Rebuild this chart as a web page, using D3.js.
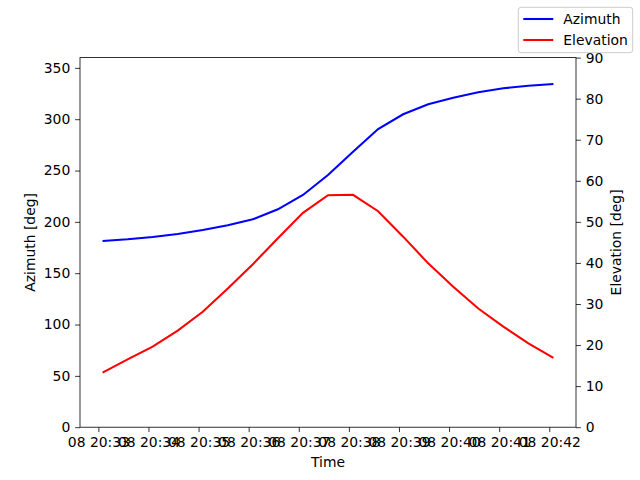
<!DOCTYPE html>
<html>
<head>
<meta charset="utf-8">
<script src="https://cdn.jsdelivr.net/npm/d3@7"></script>
<style>
  body { margin: 0; background: #fff; }
  svg { display: block; font-family: "DejaVu Sans", sans-serif; }
</style>
</head>
<body>
<svg id="vis1" width="640" height="480"></svg>
<script>
// observation times (day 08), one sample every 30 s
let times = ["20:33:05", "20:33:35", "20:34:05", "20:34:35", "20:35:05", "20:35:35",
  "20:36:05", "20:36:35", "20:37:05", "20:37:35", "20:38:05", "20:38:35", "20:39:05",
  "20:39:35", "20:40:05", "20:40:35", "20:41:05", "20:41:35", "20:42:05"];
let azimuth = [181.4, 183.0, 185.3, 188.2, 192.1, 196.7, 202.5, 212.2, 226.2, 245.6,
  268.3, 290.4, 304.8, 314.5, 321.0, 326.2, 330.1, 332.6, 334.3];
let elevation = [13.3, 16.5, 19.6, 23.5, 28.1, 33.8, 39.7, 46.0, 52.2, 56.5,
  56.6, 52.6, 46.4, 39.9, 34.2, 28.9, 24.5, 20.4, 16.9];
let azTicks = [0, 50, 100, 150, 200, 250, 300, 350];
let elTicks = [0, 10, 20, 30, 40, 50, 60, 70, 80, 90];
let timeTicks = ["20:33", "20:34", "20:35", "20:36", "20:37", "20:38", "20:39", "20:40", "20:41", "20:42"];
let seriesNames = ["Azimuth", "Elevation"];
let seriesColors = ["#0000ff", "#ff0000"];

let parseTime = d3.timeParse("%Y-%m-%d %H:%M:%S");
let parseTick = d3.timeParse("%Y-%m-%d %H:%M");
let day = "2024-01-08 ";

let dataPoints = times.map(function(t, i) {
  return { "t": parseTime(day + t), "az": azimuth[i], "el": elevation[i] };
});

let svg = d3.select("#vis1");

let margin = { top: 57.6, right: 64, bottom: 52.8, left: 80 };
let plotWidth = 640 - margin.left - margin.right;
let plotHeight = 480 - margin.top - margin.bottom;

let fontSize = 13.9;
let tickLen = 4.86;

// x domain padded by 5% like matplotlib margins
let tExt = d3.extent(dataPoints, function(d) { return d.t; });
let pad = (tExt[1] - tExt[0]) * 0.05;
let x = d3.scaleTime()
  .domain([new Date(+tExt[0] - pad), new Date(+tExt[1] + pad)])
  .range([0, plotWidth]);
let yAz = d3.scaleLinear().domain([0, 360]).range([plotHeight, 0]);
let yEl = d3.scaleLinear().domain([0, 90]).range([plotHeight, 0]);

let plot = svg.append("g")
  .attr("transform", "translate(" + margin.left + "," + margin.top + ")");

// lines
let azLine = d3.line()
  .x(function(d) { return x(d.t); })
  .y(function(d) { return yAz(d.az); });
let elLine = d3.line()
  .x(function(d) { return x(d.t); })
  .y(function(d) { return yEl(d.el); });

plot.append("path")
  .attr("d", azLine(dataPoints))
  .attr("stroke", seriesColors[0])
  .attr("stroke-width", 2.08)
  .attr("fill", "none");
plot.append("path")
  .attr("d", elLine(dataPoints))
  .attr("stroke", seriesColors[1])
  .attr("stroke-width", 2.08)
  .attr("fill", "none");

// axes
let xAxis = d3.axisBottom(x)
  .tickValues(timeTicks.map(function(d) { return parseTick(day + d); }))
  .tickFormat(d3.timeFormat("%d %H:%M"))
  .tickSizeInner(tickLen).tickSizeOuter(0).tickPadding(4.86);
let yAxisL = d3.axisLeft(yAz)
  .tickValues(azTicks)
  .tickSizeInner(tickLen).tickSizeOuter(0).tickPadding(4.86);
let yAxisR = d3.axisRight(yEl)
  .tickValues(elTicks)
  .tickSizeInner(tickLen).tickSizeOuter(0).tickPadding(4.86);

let gx = plot.append("g")
  .attr("transform", "translate(0," + plotHeight + ")")
  .call(xAxis);
let gl = plot.append("g").call(yAxisL);
let gr = plot.append("g")
  .attr("transform", "translate(" + plotWidth + ",0)")
  .call(yAxisR);

[gx, gl, gr].forEach(function(g) {
  g.select(".domain").remove();
  g.selectAll(".tick line").attr("stroke", "#000").attr("stroke-width", 0.8);
  g.selectAll(".tick text")
    .attr("fill", "#000")
    .style("font-size", fontSize + "px")
    .style("font-family", "DejaVu Sans");
});

// frame
plot.append("rect")
  .attr("x", 0).attr("y", 0)
  .attr("width", plotWidth).attr("height", plotHeight)
  .attr("fill", "none")
  .attr("stroke", "#000")
  .attr("stroke-width", 0.8);

// axis titles
svg.append("text")
  .attr("x", margin.left + plotWidth / 2)
  .attr("y", 467)
  .style("text-anchor", "middle")
  .style("font-size", fontSize + "px")
  .text("Time");
svg.append("text")
  .attr("transform", "translate(35," + (margin.top + plotHeight / 2) + ") rotate(-90)")
  .style("text-anchor", "middle")
  .style("font-size", fontSize + "px")
  .text("Azimuth [deg]");
svg.append("text")
  .attr("transform", "translate(620.5," + (margin.top + plotHeight / 2) + ") rotate(-90)")
  .style("text-anchor", "middle")
  .style("font-size", fontSize + "px")
  .text("Elevation [deg]");

// legend (figure level, upper right)
let legend = svg.append("g").attr("transform", "translate(518.3,7.3)");
legend.append("rect")
  .attr("width", 114.4)
  .attr("height", 45.4)
  .attr("rx", 2.8)
  .attr("fill", "#fff")
  .attr("fill-opacity", 0.8)
  .attr("stroke", "#cccccc")
  .attr("stroke-width", 1);

let items = legend.selectAll(".legend")
  .data(seriesNames)
  .enter().append("g")
  .attr("class", "legend")
  .attr("transform", function(d, i) { return "translate(0," + (11.7 + i * 21) + ")"; });
items.append("line")
  .attr("x1", 5).attr("x2", 35)
  .attr("stroke", function(d, i) { return seriesColors[i]; })
  .attr("stroke-width", 2.08);
items.append("text")
  .attr("x", 45)
  .attr("y", 5)
  .style("font-size", fontSize + "px")
  .text(function(d) { return d; });
</script>
</body>
</html>
